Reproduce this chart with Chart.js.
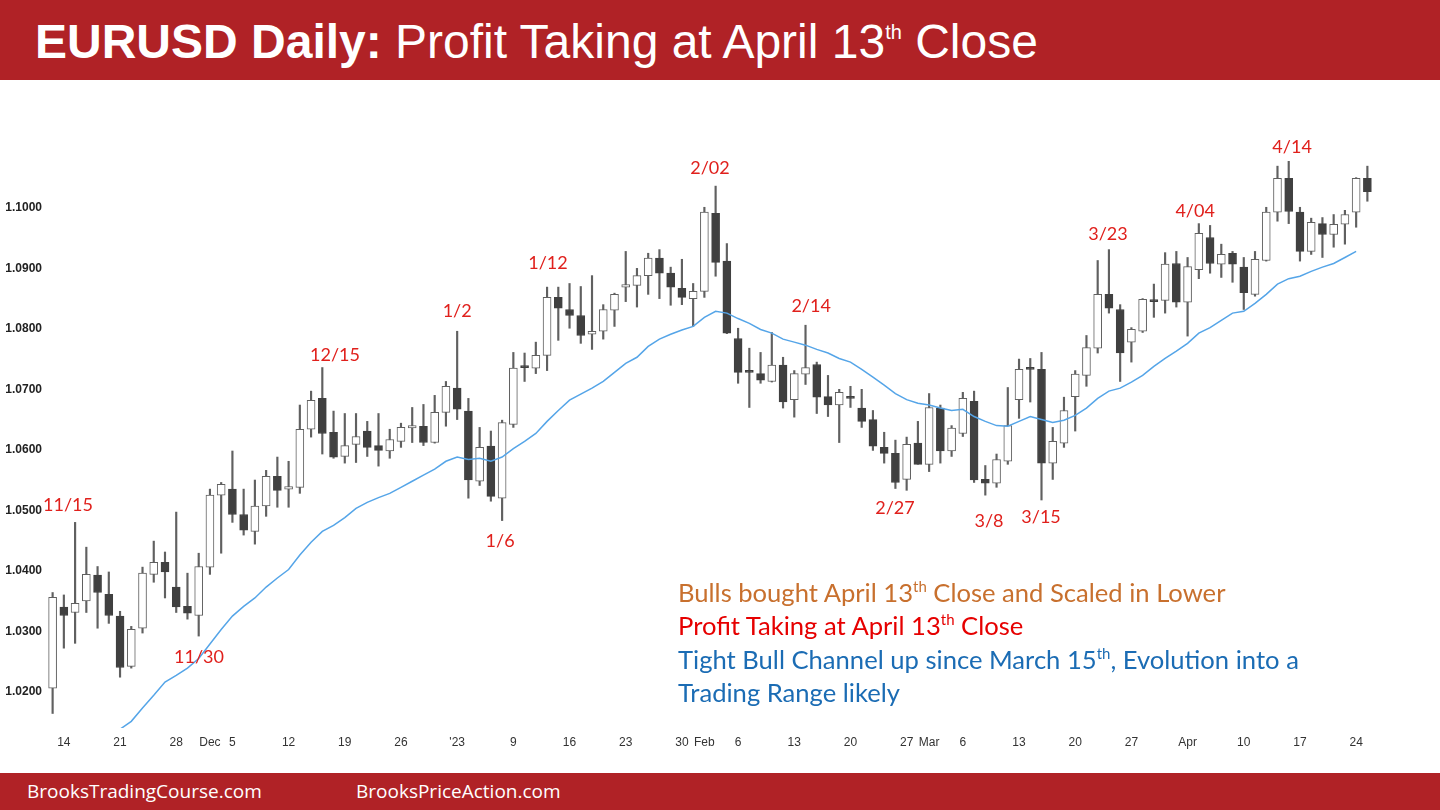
<!DOCTYPE html>
<html>
<head>
<meta charset="utf-8">
<script src="https://cdn.jsdelivr.net/npm/chart.js@4/dist/chart.umd.min.js"></script>
<style>
  body { margin: 0; width: 1440px; height: 810px; overflow: hidden; background: #fff; position: relative; font-family: "Liberation Sans", Arial, sans-serif; }
  .topbar { position: absolute; left: 0; top: 0; width: 1440px; height: 80px; background: #B02226; }
  .topbar h1 { position: absolute; left: 35px; top: 18px; margin: 0; color: #fff; font-size: 48px; line-height: 48px; font-weight: normal; white-space: nowrap; }
  .topbar h1 b { font-weight: bold; }
  .topbar h1 .sup { font-size: 20px; line-height: 0; position: relative; top: -19px; }
  .footbar { position: absolute; left: 0; top: 773px; width: 1440px; height: 37px; background: #B02226; color: #fff; font-family: "Open Sans", sans-serif; font-size: 19px; }
  .footbar span { position: absolute; top: 7px; line-height: 22px; }
  #chart { position: absolute; left: 0; top: 80px; }
  .notes { position: absolute; left: 678px; top: 576px; font-family: Lato, sans-serif; font-size: 25.6px; line-height: 33.3px; white-space: nowrap; }
  .notes .sup { font-size: 15px; line-height: 0; position: relative; top: -10px; }
</style>
</head>
<body>
<div class="topbar"><h1><b>EURUSD Daily:</b> Profit Taking at April 13<span class="sup">th</span> Close</h1></div>
<canvas id="chart" width="1440" height="693"></canvas>
<div class="notes">
  <div style="color:#C8702E">Bulls bought April 13<span class="sup">th</span> Close and Scaled in Lower</div>
  <div style="color:#E60000">Profit Taking at April 13<span class="sup">th</span> Close</div>
  <div style="color:#1B6CB4">Tight Bull Channel up since March 15<span class="sup">th</span>, Evolution into a</div>
  <div style="color:#1B6CB4">Trading Range likely</div>
</div>
<div class="footbar"><span style="left:27px">BrooksTradingCourse.com</span><span style="left:356px">BrooksPriceAction.com</span></div>

<script>
// daily bars, Nov 11 2022 .. Apr 25 2023
const dates = ['11/11',
  '11/14','11/15','11/16','11/17','11/18','11/21','11/22','11/23','11/24','11/25',
  '11/28','11/29','11/30','12/01','12/02','12/05','12/06','12/07','12/08','12/09',
  '12/12','12/13','12/14','12/15','12/16','12/19','12/20','12/21','12/22','12/23',
  '12/26','12/27','12/28','12/29','12/30','01/02','01/03','01/04','01/05','01/06',
  '01/09','01/10','01/11','01/12','01/13','01/16','01/17','01/18','01/19','01/20',
  '01/23','01/24','01/25','01/26','01/27','01/30','01/31','02/01','02/02','02/03',
  '02/06','02/07','02/08','02/09','02/10','02/13','02/14','02/15','02/16','02/17',
  '02/20','02/21','02/22','02/23','02/24','02/27','02/28','03/01','03/02','03/03',
  '03/06','03/07','03/08','03/09','03/10','03/13','03/14','03/15','03/16','03/17',
  '03/20','03/21','03/22','03/23','03/24','03/27','03/28','03/29','03/30','03/31',
  '04/03','04/04','04/05','04/06','04/07','04/10','04/11','04/12','04/13','04/14',
  '04/17','04/18','04/19','04/20','04/21','04/24','04/25'];

const opens = [1.0206,
  1.0340,1.0331,1.0350,1.0393,1.0361,1.0325,1.0242,1.0305,1.0394,1.0414,
  1.0373,1.0341,1.0326,1.0406,1.0525,1.0535,1.0493,1.0465,1.0507,1.0556,
  1.0535,1.0538,1.0634,1.0685,1.0629,1.0589,1.0609,1.0631,1.0607,1.0598,
  1.0614,1.0636,1.0639,1.0612,1.0662,1.0702,1.0664,1.0548,1.0606,1.0520,
  1.0642,1.0737,1.0735,1.0756,1.0852,1.0832,1.0822,1.0791,1.0796,1.0831,
  1.0869,1.0872,1.0888,1.0917,1.0892,1.0867,1.0850,1.0862,1.0991,1.0912,
  1.0784,1.0730,1.0726,1.0713,1.0740,1.0683,1.0725,1.0741,1.0688,1.0674,
  1.0687,1.0669,1.0650,1.0604,1.0594,1.0551,1.0611,1.0576,1.0669,1.0598,
  1.0627,1.0680,1.0551,1.0545,1.0581,1.0683,1.0735,1.0733,1.0578,1.0611,
  1.0688,1.0723,1.0768,1.0857,1.0832,1.0778,1.0796,1.0847,1.0847,1.0908,
  1.0844,1.0898,1.0951,1.0907,1.0925,1.0902,1.0857,1.0913,1.0993,1.1049,
  1.0993,1.0928,1.0974,1.0956,1.0973,1.0993,1.1049];
const highs = [1.0364,
  1.0360,1.0480,1.0439,1.0407,1.0398,1.0333,1.0308,1.0406,1.0449,1.0431,
  1.0497,1.0396,1.0429,1.0535,1.0546,1.0598,1.0535,1.0550,1.0566,1.0588,
  1.0581,1.0674,1.0697,1.0736,1.0664,1.0660,1.0660,1.0647,1.0660,1.0634,
  1.0644,1.0670,1.0675,1.0690,1.0713,1.0796,1.0685,1.0637,1.0631,1.0649,
  1.0761,1.0760,1.0778,1.0869,1.0869,1.0875,1.0870,1.0888,1.0840,1.0859,
  1.0928,1.0900,1.0925,1.0931,1.0902,1.0915,1.0875,1.1001,1.1036,1.0941,
  1.0801,1.0768,1.0761,1.0794,1.0753,1.0731,1.0806,1.0745,1.0723,1.0700,
  1.0705,1.0700,1.0665,1.0629,1.0616,1.0621,1.0647,1.0693,1.0674,1.0640,
  1.0695,1.0697,1.0574,1.0593,1.0703,1.0750,1.0751,1.0761,1.0637,1.0687,
  1.0731,1.0789,1.0913,1.0931,1.0840,1.0802,1.0850,1.0874,1.0926,1.0928,
  1.0918,1.0974,1.0971,1.0940,1.0928,1.0918,1.0928,1.1001,1.1069,1.1077,
  1.1001,1.0983,1.0984,1.0989,1.0996,1.1050,1.1069];
const lows = [1.0164,
  1.0272,1.0280,1.0331,1.0305,1.0313,1.0224,1.0239,1.0297,1.0381,1.0355,
  1.0331,1.0320,1.0292,1.0394,1.0429,1.0480,1.0459,1.0444,1.0490,1.0505,
  1.0505,1.0528,1.0621,1.0593,1.0586,1.0578,1.0579,1.0589,1.0573,1.0586,
  1.0604,1.0612,1.0607,1.0611,1.0639,1.0650,1.0520,1.0541,1.0515,1.0483,
  1.0637,1.0713,1.0726,1.0731,1.0781,1.0801,1.0776,1.0766,1.0783,1.0804,
  1.0845,1.0836,1.0857,1.0850,1.0839,1.0840,1.0804,1.0852,1.0887,1.0792,
  1.0710,1.0670,1.0710,1.0712,1.0669,1.0654,1.0708,1.0660,1.0655,1.0612,
  1.0670,1.0637,1.0599,1.0578,1.0536,1.0533,1.0576,1.0564,1.0578,1.0589,
  1.0622,1.0546,1.0525,1.0538,1.0576,1.0652,1.0679,1.0517,1.0551,1.0604,
  1.0631,1.0705,1.0760,1.0826,1.0713,1.0745,1.0794,1.0819,1.0826,1.0836,
  1.0788,1.0883,1.0892,1.0885,1.0877,1.0832,1.0854,1.0912,1.0978,1.0974,
  1.0912,1.0923,1.0918,1.0935,1.0940,1.0968,1.1011];
const closes = [1.0356,
  1.0326,1.0346,1.0394,1.0364,1.0326,1.0240,1.0303,1.0396,1.0414,1.0398,
  1.0340,1.0330,1.0407,1.0525,1.0543,1.0493,1.0467,1.0507,1.0556,1.0533,
  1.0539,1.0634,1.0682,1.0627,1.0588,1.0607,1.0622,1.0604,1.0599,1.0617,
  1.0637,1.0640,1.0612,1.0662,1.0705,1.0667,1.0550,1.0604,1.0523,1.0645,
  1.0735,1.0736,1.0756,1.0852,1.0834,1.0822,1.0789,1.0796,1.0832,1.0857,
  1.0873,1.0888,1.0917,1.0892,1.0869,1.0852,1.0862,1.0993,1.0910,1.0793,
  1.0728,1.0728,1.0715,1.0740,1.0679,1.0726,1.0736,1.0687,1.0674,1.0695,
  1.0685,1.0647,1.0606,1.0594,1.0546,1.0609,1.0576,1.0670,1.0598,1.0636,
  1.0685,1.0550,1.0545,1.0584,1.0640,1.0733,1.0733,1.0578,1.0614,1.0665,
  1.0725,1.0769,1.0857,1.0834,1.0760,1.0799,1.0849,1.0845,1.0907,1.0844,
  1.0903,1.0958,1.0908,1.0923,1.0907,1.0860,1.0915,1.0993,1.1049,1.0994,
  1.0928,1.0976,1.0956,1.0973,1.0989,1.1049,1.1027];

// 20 bar EMA
const ema = [null,
  null,null,null,null,null,1.0138,1.0151,1.0173,1.0194,1.0216,
  1.0227,1.0239,1.0255,1.0279,1.0303,1.0325,1.0341,1.0355,1.0373,1.0388,
  1.0402,1.0426,1.0447,1.0465,1.0475,1.0488,1.0503,1.0513,1.0521,1.0528,
  1.0538,1.0548,1.0558,1.0568,1.0581,1.0588,1.0584,1.0586,1.0581,1.0588,
  1.0602,1.0614,1.0627,1.0647,1.0665,1.0682,1.0692,1.0702,1.0713,1.0728,
  1.0743,1.0753,1.0771,1.0783,1.0791,1.0798,1.0804,1.0819,1.0829,1.0826,
  1.0817,1.0809,1.0799,1.0793,1.0783,1.0778,1.0773,1.0766,1.0760,1.0751,
  1.0745,1.0733,1.0720,1.0707,1.0693,1.0683,1.0677,1.0674,1.0669,1.0665,
  1.0667,1.0655,1.0647,1.0640,1.0639,1.0647,1.0655,1.0650,1.0645,1.0649,
  1.0657,1.0669,1.0685,1.0697,1.0702,1.0712,1.0723,1.0738,1.0751,1.0763,
  1.0776,1.0793,1.0802,1.0814,1.0826,1.0829,1.0842,1.0857,1.0874,1.0883,
  1.0887,1.0895,1.0902,1.0908,1.0918,1.0928,null];

// x axis labels (bar index -> text)
const tickIdx  = [1, 6, 11, 14, 16, 21, 26, 31, 36, 41, 46, 51, 56, 58, 61, 66, 71, 76, 78, 81, 86, 91, 96, 101, 106, 111, 116];
const tickText = ['14','21','28','Dec','5','12','19','26',"'23",'9','16','23','30','Feb','6','13','20','27','Mar','6','13','20','27','Apr','10','17','24'];
const yTicks = [1.02, 1.03, 1.04, 1.05, 1.06, 1.07, 1.08, 1.09, 1.10];

// swing labels: text, bar position, price level
const noteText  = ['11/15','11/30','12/15','1/2','1/6','1/12','2/02','2/14','2/27','3/8','3/15','3/23','4/04','4/14'];
const noteBar   = [1.37, 13.03, 25.13, 36.0, 39.82, 44.08, 58.5, 67.5, 74.96, 83.33, 87.96, 93.92, 101.67, 110.3];
const notePrice = [1.0508, 1.0257, 1.0756, 1.0829, 1.0449, 1.0908, 1.1065, 1.0837, 1.0503, 1.0482, 1.0488, 1.0956, 1.0994, 1.1100];

const up = opens.map((o, i) => closes[i] >= o);

const swingLabels = {
  id: 'swingLabels',
  afterDatasetsDraw(chart) {
    const ctx = chart.ctx, xs = chart.scales.x, ys = chart.scales.y;
    ctx.save();
    ctx.fillStyle = '#E0201C';
    ctx.font = '18px Lato';
    ctx.textAlign = 'center';
    ctx.textBaseline = 'middle';
    noteText.forEach((t, k) => {
      ctx.fillText(t, xs.getPixelForValue(noteBar[k]), ys.getPixelForValue(notePrice[k]));
    });
    ctx.restore();
  }
};

new Chart(document.getElementById('chart'), {
  type: 'bar',
  data: {
    labels: dates,
    datasets: [
      {
        // wicks
        data: lows.map((l, i) => [l, highs[i]]),
        backgroundColor: '#606060',
        barThickness: 1.5,
        grouped: false,
        order: 2
      },
      {
        // bodies
        data: opens.map((o, i) => [o, closes[i]]),
        backgroundColor: up.map(u => u ? '#ffffff' : '#404040'),
        borderColor: up.map(u => u ? '#606060' : '#404040'),
        borderWidth: 1,
        borderSkipped: false,
        barThickness: 8,
        minBarLength: 2,
        grouped: false,
        order: 1
      },
      {
        type: 'line',
        data: ema,
        borderColor: '#55A5E8',
        borderWidth: 1.5,
        pointRadius: 0,
        tension: 0,
        order: 0
      }
    ]
  },
  options: {
    responsive: false,
    animation: false,
    devicePixelRatio: 1,
    layout: { padding: { top: 16, right: 67, left: 0, bottom: 0 } },
    plugins: { legend: { display: false }, tooltip: { enabled: false } },
    scales: {
      x: {
        offset: true,
        grid: { display: false, drawTicks: false },
        border: { display: false },
        ticks: {
          autoSkip: false, maxRotation: 0, minRotation: 0, padding: 7,
          color: '#333', font: { family: 'Liberation Sans', size: 12 },
          callback: (v, i) => { const k = tickIdx.indexOf(i); return k < 0 ? '' : tickText[k]; }
        },
        afterFit: s => { s.height = 45; }
      },
      y: {
        min: 1.014, max: 1.1185,
        grid: { display: false, drawTicks: false },
        border: { display: false },
        afterBuildTicks: s => { s.ticks = yTicks.map(v => ({ value: v })); },
        ticks: {
          padding: 5, color: '#222',
          font: { family: 'Liberation Sans', size: 12, weight: 'bold' },
          callback: v => v.toFixed(4)
        },
        afterFit: s => { s.width = 47; }
      }
    }
  },
  plugins: [swingLabels]
});
</script>
</body>
</html>
